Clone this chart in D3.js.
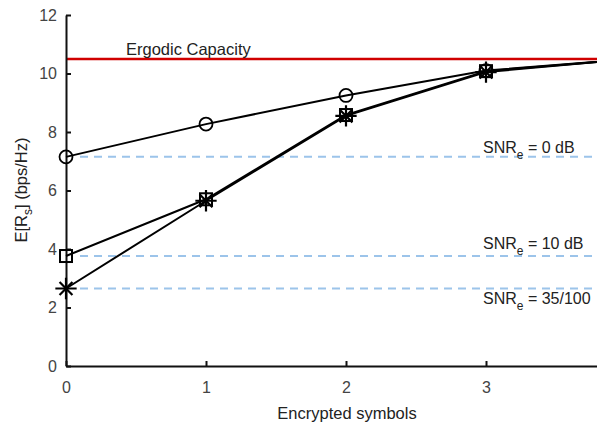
<!DOCTYPE html>
<html>
<head>
<meta charset="utf-8">
<script src="https://cdn.jsdelivr.net/npm/d3@7"></script>
<style>
  body { margin: 0; background: #fff; }
  svg { display: block; font-family: "Liberation Sans", Arial, sans-serif; }
</style>
</head>
<body>
<div id="chart"></div>
<script>
// secrecy rate vs number of encrypted symbols

var symbols = [0, 1, 2, 3, 4];
var xTicks = [0, 1, 2, 3];
var yTicks = [0, 2, 4, 6, 8, 10, 12];

// E[Rs] for each eavesdropper SNR
var rate0dB = [7.15, 8.27, 9.25, 10.1, 10.48];
var rate10dB = [3.76, 5.7, 8.58, 10.08, 10.48];
var rate35 = [2.65, 5.65, 8.55, 10.05, 10.48];

var ergodicCapacity = 10.5;
var snrLevels = [7.15, 3.76, 2.65];
var snrLabels = ["0 dB", "10 dB", "35/100"];

var width = 597, height = 424;

var svg = d3.select("#chart").append("svg")
    .attr("width", width)
    .attr("height", height);

// scales
var x = d3.scaleLinear().domain([0, 4]).range([66, 626]);
var y = d3.scaleLinear().domain([0, 12]).range([366, 15]);

// dashed eavesdropper levels
svg.selectAll(".level")
    .data(snrLevels)
    .enter().append("line")
    .attr("class", "level")
    .attr("x1", x(0.1)).attr("x2", width)
    .attr("y1", function(d) { return y(d); })
    .attr("y2", function(d) { return y(d); })
    .attr("stroke", "#9cc4ea")
    .attr("stroke-width", 2)
    .attr("stroke-dasharray", "8,6");

// ergodic capacity
svg.append("line")
    .attr("x1", x(0)).attr("x2", width)
    .attr("y1", y(ergodicCapacity)).attr("y2", y(ergodicCapacity))
    .attr("stroke", "#d00000")
    .attr("stroke-width", 2.5);

svg.append("text")
    .attr("x", 126)
    .attr("y", y(ergodicCapacity) - 4)
    .attr("fill", "#222")
    .style("font-size", "16.5px")
    .text("Ergodic Capacity");

// axes
var yAxis = svg.append("g")
    .attr("transform", "translate(" + x(0) + ",0)")
    .call(d3.axisLeft(y).tickValues(yTicks).tickFormat(d3.format("d"))
        .tickSizeInner(-5).tickSizeOuter(0).tickPadding(9));

var xAxis = svg.append("g")
    .attr("transform", "translate(0," + y(0) + ")")
    .call(d3.axisBottom(x).tickValues(xTicks).tickFormat(d3.format("d"))
        .tickSizeInner(-5).tickSizeOuter(0).tickPadding(16));

[xAxis, yAxis].forEach(function(g) {
    g.select(".domain").attr("stroke", "#111").attr("stroke-width", 2);
    g.selectAll(".tick line").attr("stroke", "#111").attr("stroke-width", 2);
    g.selectAll(".tick text")
        .attr("fill", "#444")
        .style("font-size", "16px")
        .style("font-family", "\"Liberation Sans\", Arial, sans-serif");
});

// series lines
var line = d3.line()
    .x(function(d, i) { return x(symbols[i]); })
    .y(function(d) { return y(d); });

[rate0dB, rate10dB, rate35].forEach(function(s) {
    svg.append("path")
        .datum(s)
        .attr("d", line)
        .attr("fill", "none")
        .attr("stroke", "#000")
        .attr("stroke-width", 2);
});

// markers
svg.selectAll(".circ")
    .data(rate0dB)
    .enter().append("circle")
    .attr("cx", function(d, i) { return x(symbols[i]); })
    .attr("cy", function(d) { return y(d); })
    .attr("r", 6.5)
    .attr("fill", "none")
    .attr("stroke", "#000")
    .attr("stroke-width", 1.8);

svg.selectAll(".sq")
    .data(rate10dB)
    .enter().append("rect")
    .attr("x", function(d, i) { return x(symbols[i]) - 6; })
    .attr("y", function(d) { return y(d) - 6; })
    .attr("width", 12)
    .attr("height", 12)
    .attr("fill", "none")
    .attr("stroke", "#000")
    .attr("stroke-width", 2);

var plus = d3.symbol().type(d3.symbolPlus).size(150);
var times = d3.symbol().type(d3.symbolTimes).size(110);
rate35.forEach(function(d, i) {
    var t = "translate(" + x(symbols[i]) + "," + y(d) + ")";
    svg.append("path").attr("d", plus()).attr("transform", t)
        .attr("fill", "none").attr("stroke", "#000").attr("stroke-width", 2.2);
    svg.append("path").attr("d", times()).attr("transform", t)
        .attr("fill", "none").attr("stroke", "#000").attr("stroke-width", 2.2);
});

// SNR labels
var labelY = [y(snrLevels[0]) - 4, y(snrLevels[1]) - 7, y(snrLevels[2]) + 16];
snrLabels.forEach(function(l, i) {
    var t = svg.append("text")
        .attr("x", 483)
        .attr("y", labelY[i])
        .attr("fill", "#222")
        .style("font-size", "16px");
    t.append("tspan").text("SNR");
    t.append("tspan").attr("dy", 6).style("font-size", "12px").text("e");
    t.append("tspan").attr("dy", -6).text(" = " + l);
});

// axis titles
svg.append("text")
    .attr("x", 347)
    .attr("y", 419)
    .attr("text-anchor", "middle")
    .attr("fill", "#222")
    .style("font-size", "16.5px")
    .text("Encrypted symbols");

var yl = svg.append("text")
    .attr("transform", "translate(27,190) rotate(-90)")
    .attr("text-anchor", "middle")
    .attr("fill", "#222")
    .style("font-size", "16.5px");
yl.append("tspan").text("E[R");
yl.append("tspan").attr("dy", 5).style("font-size", "12px").text("s");
yl.append("tspan").attr("dy", -5).text("] (bps/Hz)");
</script>
</body>
</html>
